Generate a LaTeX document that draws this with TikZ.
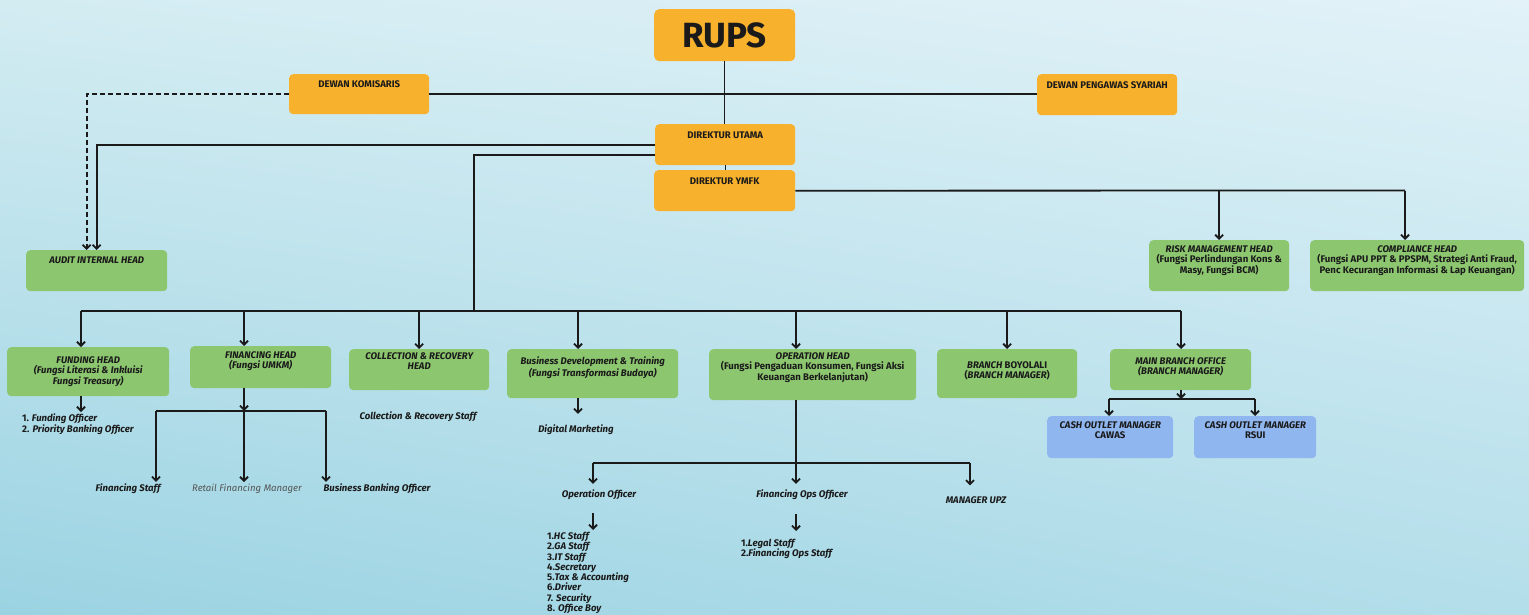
\documentclass[tikz,border=0pt]{standalone}
\usepackage{fontspec}
\setmainfont{Fira Sans}
\usetikzlibrary{arrows.meta,positioning,shadings}

\definecolor{boxorange}{HTML}{F8B12C}
\definecolor{boxgreen}{HTML}{8CC66F}
\definecolor{boxblue}{HTML}{8FB6EE}
\definecolor{ink}{HTML}{1A1A1A}
\definecolor{bgtl}{HTML}{D3ECF2}
\definecolor{bgtr}{HTML}{E2F2F8}
\definecolor{bgbl}{HTML}{9BD3E2}
\definecolor{bgbr}{HTML}{B3DEEA}

\newcommand{\orgfont}{\fontsize{9.6}{10.3}\selectfont\bfseries}
% box text: width, height, top padding, text
\newcommand{\boxtext}[4]{\parbox[t][#2pt][t]{#1pt}{\centering\vspace*{#3pt}#4\par}}

\begin{document}
\begin{tikzpicture}[
    x=1pt, y=-1pt,
    font=\orgfont, text=ink,
    >={Straight Barb[length=4pt,width=8pt]},
    rupsbox/.style={rectangle, rounded corners=5pt, fill=boxorange, minimum width=141pt,
      minimum height=52pt, anchor=north west, inner sep=0pt, font=\fontsize{35}{35}\selectfont\bfseries},
    board/.style={rectangle, rounded corners=4pt, fill=boxorange, anchor=north west, inner sep=0pt},
    head/.style={board, fill=boxgreen},
    outlet/.style={board, fill=boxblue},
    staff/.style={inner sep=2pt, font=\orgfont\itshape},
    stafflist/.style={inner sep=2pt, anchor=north west, align=left},
    thinlink/.style={line width=1pt, draw=ink},
    link/.style={line width=1.8pt, draw=ink},
    flow/.style={->, line width=1.8pt, draw=ink},
    dotflow/.style={flow, dash pattern=on 5pt off 3pt}
  ]
  \shade[upper left=bgtl, upper right=bgtr, lower left=bgbl, lower right=bgbr] (0,0) rectangle (1529,615);
  \useasboundingbox (0,0) rectangle (1529,615);

  % top of the chart
  \node[rupsbox] (rups) at (654,9) {RUPS};
  \node[board] (dk) at (289,74) {\boxtext{140}{40}{6}{DEWAN KOMISARIS}};
  \node[board] (dps) at (1037,74) {\boxtext{140}{41}{7}{DEWAN PENGAWAS SYARIAH}};
  \node[board] (du) at (655,124) {\boxtext{140}{41}{8}{DIREKTUR UTAMA}};
  \node[board] (dy) at (654,170) {\boxtext{141}{41}{8}{DIREKTUR YMFK}};
  \node[head] (audit) at (26,250) {\boxtext{141}{41}{7}{\textit{AUDIT INTERNAL HEAD}}};
  \node[head] (risk) at (1149,240)
    {\boxtext{140}{51}{5}{\textit{RISK MANAGEMENT HEAD}\\(Fungsi Perlindungan Kons \&\\Masy, Fungsi BCM)}};
  \node[head] (comp) at (1310,240)
    {\boxtext{214}{51}{5}{\textit{COMPLIANCE HEAD}\\(Fungsi APU PPT \& PPSPM, Strategi Anti Fraud,\\Penc Kecurangan Informasi \& Lap Keuangan)}};

  % heads row
  \node[head] (fund) at (7,347)
    {\boxtext{162}{49}{9}{\itshape FUNDING HEAD\\(Fungsi Literasi \& Inkluisi\\Fungsi Treasury)}};
  \node[head] (fin) at (190,346) {\boxtext{141}{42}{5}{\itshape FINANCING HEAD\\(Fungsi UMKM)}};
  \node[head] (coll) at (349,349) {\boxtext{140}{41}{3}{\itshape COLLECTION \& RECOVERY\\HEAD}};
  \node[head] (busdev) at (507,349)
    {\boxtext{171}{49}{8}{\itshape Business Development \& Training\\(Fungsi Transformasi Budaya)}};
  \node[head] (ops) at (709,349)
    {\boxtext{207}{51}{3}{\textit{OPERATION HEAD}\\(Fungsi Pengaduan Konsumen, Fungsi Aksi\\Keuangan Berkelanjutan)}};
  \node[head] (boyolali) at (937,349)
    {\boxtext{140}{49}{12}{\textit{BRANCH} BOYOLALI\\(\textit{BRANCH MANAGER})}};
  \node[head] (mainbr) at (1110,349)
    {\boxtext{141}{41}{8}{\itshape MAIN BRANCH OFFICE\\(BRANCH MANAGER)}};
  \node[outlet] (cawas) at (1047,416) {\boxtext{126}{42}{5}{\textit{CASH OUTLET MANAGER}\\CAWAS}};
  \node[outlet] (rsui) at (1194,416) {\boxtext{122}{42}{5}{\textit{CASH OUTLET MANAGER}\\RSUI}};

  % staff
  \node[stafflist] (fundlist) at (20,412) {1. \textit{Funding Officer}\\2. \textit{Priority Banking Officer}};
  \node[staff] (finstaff) at (128,489) {Financing Staff};
  \node[staff, font=\fontsize{9.6}{10.3}\selectfont\itshape, text=ink!75] (retail) at (247,489) {Retail Financing Manager};
  \node[staff] (bbo) at (377,489) {Business Banking Officer};
  \node[staff] (collstaff) at (418,417) {Collection \& Recovery Staff};
  \node[staff] (digital) at (576,430) {Digital Marketing};
  \node[staff] (opofficer) at (599,495) {Operation Officer};
  \node[staff] (finops) at (802,495) {Financing Ops Officer};
  \node[staff] (upz) at (976,500) {MANAGER UPZ};
  \node[stafflist] (hclist) at (545,530)
    {1.\textit{HC Staff}\\2.\textit{GA Staff}\\3.\textit{IT Staff}\\4.\textit{Secretary}\\5.\textit{Tax \& Accounting}\\6.\textit{Driver}\\7. \textit{Security}\\8. \textit{Office Boy}};
  \node[stafflist] (legallist) at (739,537) {1.\textit{Legal Staff}\\2.\textit{Financing Ops Staff}};

  % junctions
  \coordinate (hub) at (474,311);
  \coordinate (tapfund) at (81,311);
  \coordinate (tapfin) at (244,311);
  \coordinate (tapdev) at (578,311);
  \coordinate (tapops) at (796,311);
  \coordinate (tapmain) at (1181,311);
  \coordinate (tapcomp) at (1405,190.5);
  \coordinate (finbus) at (244,411);
  \coordinate (finleft) at (156,411);
  \coordinate (finright) at (326,411);
  \coordinate (opsbus) at (796,463);
  \coordinate (opsleft) at (593,463);
  \coordinate (opsright) at (970,463);
  \coordinate (mainbus) at (1181,399);
  \coordinate (mainleft) at (1109,399);
  \coordinate (mainright) at (1255,399);

  \draw[thinlink] (rups.south) -- (rups.south |- du.north);
  \draw[thinlink] (du.south) -- (du.south |- dy.north);
  \draw[link] (dk.east) -- (dk.east -| dps.west);
  \draw[dotflow] (dk.west) -| ([xshift=-10pt]audit.north);
  \draw[flow] (du.west) -| (audit.north);
  \draw[link] ([yshift=-10pt]du.west) -| (hub);
  \draw[link] (tapfund) -- (tapmain);
  \draw[flow] (tapfund) -- (tapfund |- fund.north);
  \draw[flow] (tapfin) -- (tapfin |- fin.north);
  \draw[flow] (coll.north |- hub) -- (coll.north);
  \draw[flow] (tapdev) -- (tapdev |- busdev.north);
  \draw[flow] (tapops) -- (tapops |- ops.north);
  \draw[flow] (boyolali.north |- hub) -- (boyolali.north);
  \draw[flow] (tapmain) -- (tapmain |- mainbr.north);
  \draw[link] (dy.east) -- (tapcomp);
  \draw[flow] (dy.east -| risk.north) -- (risk.north);
  \draw[flow] (tapcomp) -- (tapcomp |- comp.north);

  \draw[flow] (tapfund |- fund.south) -- (tapfund |- fundlist.north);
  \draw[flow] (finbus |- fin.south) -- (finbus);
  \draw[link] (finleft) -- (finright);
  \draw[flow] (finleft) -- (finleft |- finstaff.north);
  \draw[flow] (finbus) -- (finbus |- retail.north);
  \draw[flow] (finright) -- (finright |- bbo.north);
  \draw[flow, shorten >=9pt] (tapdev |- busdev.south) -- (tapdev |- digital.north);
  \draw[link] (opsbus |- ops.south) -- (opsbus);
  \draw[link] (opsleft) -- (opsright);
  \draw[flow, shorten >=4pt] (opsleft) -- (opsleft |- opofficer.north);
  \draw[flow, shorten >=4pt] (opsbus) -- (opsbus |- finops.north);
  \draw[flow, shorten >=9pt] (opsright) -- (opsright |- upz.north);
  \draw[flow, shorten <=11pt] (opsleft |- opofficer.south) -- (opsleft |- hclist.north);
  \draw[flow, shorten <=12pt, shorten >=6pt] (opsbus |- finops.south) -- (opsbus |- legallist.north);
  \draw[flow] (mainbr.south -| mainbus) -- (mainbus);
  \draw[link] (mainleft) -- (mainright);
  \draw[flow] (mainleft) -- (mainleft |- cawas.north);
  \draw[flow] (mainright) -- (mainright |- rsui.north);
\end{tikzpicture}
\end{document}
